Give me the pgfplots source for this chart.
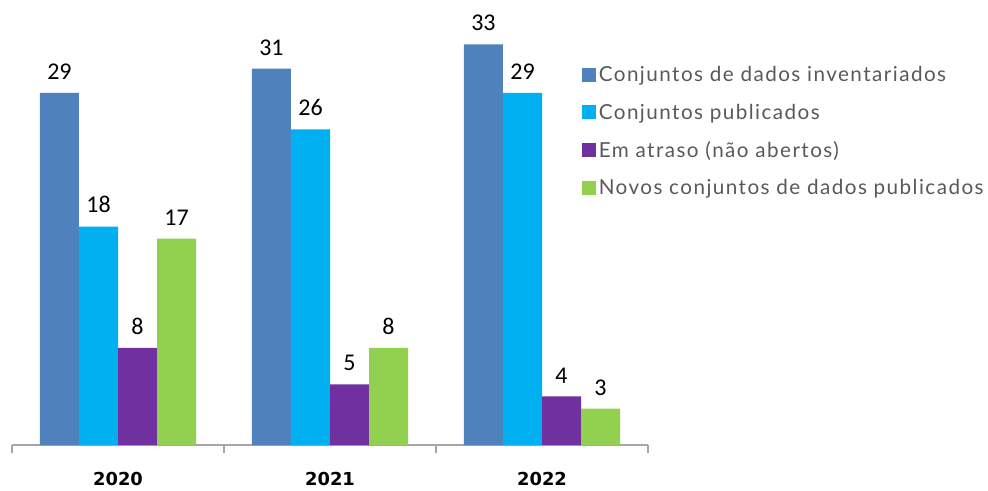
\documentclass[border=0pt]{standalone}
\usepackage{pgfplots}
\pgfplotsset{compat=1.18}
\usepackage{fontspec}
\setmainfont{Carlito}
\newfontfamily\legfont[LetterSpace=7]{Lato}
\newfontfamily\yearfont{DejaVu Sans}
\definecolor{c1}{HTML}{4F81BD}
\definecolor{c2}{HTML}{00B0F0}
\definecolor{c3}{HTML}{7030A0}
\definecolor{c4}{HTML}{92D050}
\definecolor{legtext}{HTML}{595959}
\definecolor{axgray}{HTML}{A6A6A6}
\begin{document}
\begin{tikzpicture}
\useasboundingbox (-9pt,-33.75pt) rectangle (732pt,333.75pt);
\begin{axis}[
  scale only axis,
  width=477pt, height=333.75pt,
  xmin=-0.5, xmax=2.5, ymin=0, ymax=36.66,
  axis y line=none,
  axis x line*=bottom,
  x axis line style={axgray, line width=0.8pt},
  xtick={-0.5,0.5,1.5,2.5},
  xticklabels={},
  major tick length=6pt,
  tick align=outside,
  x tick style={axgray, line width=0.8pt},
  extra x ticks={0,1,2},
  extra x tick labels={2020,2021,2022},
  extra x tick style={major tick length=0pt, tick label style={font=\yearfont\bfseries\fontsize{13.4}{16}\selectfont, yshift=-17pt}},
  ybar, bar width=0.184,
  every axis plot/.append style={draw=none},
  /pgf/number format/assume math mode=true,
  nodes near coords,
  every node near coord/.append style={font=\fontsize{18}{20}\selectfont, black, yshift=6.5pt},
  legend style={at={(0.896,0.857)}, anchor=north west, draw=none, fill=none,
    font=\legfont\fontsize{15.5}{18}\selectfont\color{legtext},
    row sep=11pt, inner xsep=0pt, inner ysep=0pt,
    /tikz/every even column/.append style={column sep=1.5pt}},
  legend cell align=left,
  legend image code/.code={\fill[#1] (0pt,-5.25pt) rectangle (10.5pt,5.25pt);},
]
\addplot[fill=c1, bar shift=-0.276] coordinates {(0,29) (1,31) (2,33)};
\addplot[fill=c2, bar shift=-0.092] coordinates {(0,18) (1,26) (2,29)};
\addplot[fill=c3, bar shift=0.092] coordinates {(0,8) (1,5) (2,4)};
\addplot[fill=c4, bar shift=0.276] coordinates {(0,17) (1,8) (2,3)};
\legend{Conjuntos de dados inventariados, Conjuntos publicados, Em atraso (não abertos), Novos conjuntos de dados publicados}
\end{axis}
\end{tikzpicture}
\end{document}
